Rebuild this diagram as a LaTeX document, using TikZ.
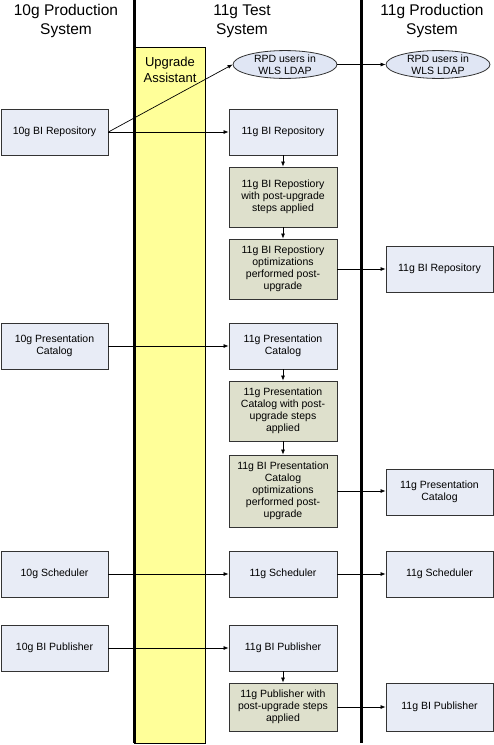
\documentclass[tikz,border=0pt]{standalone}
\usepackage{fontspec}
\setmainfont{Liberation Sans}
\usetikzlibrary{arrows.meta,shapes.geometric}
\definecolor{boxblue}{HTML}{E8ECF6}
\definecolor{ellblue}{HTML}{E0E6F4}
\definecolor{boxgreen}{HTML}{DEE0CC}
\definecolor{uayellow}{HTML}{FFFF99}
\definecolor{edgegray}{HTML}{333333}
\tikzset{
  bluebox/.style={draw=edgegray, line width=0.8pt, fill=boxblue, rectangle, inner sep=0pt,
    align=center, font=\fontsize{10.5}{12}\selectfont, minimum width=107pt, minimum height=46pt},
  greenbox/.style={bluebox, fill=boxgreen},
  ellbox/.style={draw=edgegray, line width=0.8pt, fill=ellblue, ellipse, inner sep=0pt,
    align=center, font=\fontsize{10.5}{12}\selectfont, minimum width=104pt, minimum height=25pt},
  header/.style={align=center, font=\fontsize{15.5}{19}\selectfont},
  conn/.style={draw=black, line width=0.7pt, -{Latex[length=5pt,width=4pt]}},
  lane/.style={draw=black, line width=3pt}
}
\begin{document}
\begin{tikzpicture}[x=1pt,y=-1pt]
\useasboundingbox (0,0) rectangle (494,745);
% upgrade assistant column
\node[draw=black, line width=0.8pt, fill=uayellow, rectangle, inner sep=0pt, minimum width=71pt, minimum height=696pt] (ua) at (169.5,395) {};
\node[align=center, font=\fontsize{13}{15.5}\selectfont] (uatext) at (170,70) {Upgrade\\Assistant};
% lanes
\coordinate (l1t) at (134,0);
\coordinate (l1b) at (134,743);
\coordinate (l2t) at (361.5,0);
\coordinate (l2b) at (361.5,743);
\draw[lane] (l1t) -- (l1b);
\draw[lane] (l2t) -- (l2b);
% headers
\node[header] (h1) at (66,21) {10g Production\\System};
\node[header] (h2) at (242,21) {11g Test\\System};
\node[header] (h3) at (432,21) {11g Production\\System};
% ellipses
\node[ellbox] (tE) at (285,64.5) {RPD users in\\WLS LDAP};
\node[ellbox] (pE) at (438,64.5) {RPD users in\\WLS LDAP};
% left column
\node[bluebox] (rBI) at (54.5,132) {10g BI Repository};
\node[bluebox] (rPC) at (54.5,346) {10g Presentation\\Catalog};
\node[bluebox] (rS) at (54.5,574) {10g Scheduler};
\node[bluebox] (rP) at (54.5,648) {10g BI Publisher};
% test column
\node[bluebox, minimum width=108pt] (tBI) at (283,132) {11g BI Repository};
\node[greenbox, minimum width=108pt, minimum height=60pt] (g1) at (283,197) {11g BI Repostiory\\with post-upgrade\\steps applied};
\node[greenbox, minimum width=108pt, minimum height=60pt] (g2) at (283,269) {11g BI Repostiory\\optimizations\\performed post-\\upgrade};
\node[bluebox, minimum width=108pt] (tPC) at (283,346) {11g Presentation\\Catalog};
\node[greenbox, minimum width=108pt, minimum height=60pt] (g3) at (283,411) {11g Presentation\\Catalog with post-\\upgrade steps\\applied};
\node[greenbox, minimum width=108pt, minimum height=72pt] (g4) at (283,491) {11g BI Presentation\\Catalog\\optimizations\\performed post-\\upgrade};
\node[bluebox, minimum width=108pt] (tS) at (283,574) {11g Scheduler};
\node[bluebox, minimum width=108pt] (tP) at (283,648) {11g BI Publisher};
\node[greenbox, minimum width=108pt, minimum height=48pt] (g5) at (283,707) {11g Publisher with\\post-upgrade steps\\applied};
% production column
\node[bluebox] (pBI) at (439.5,269) {11g BI Repository};
\node[bluebox] (pPC) at (439.5,492) {11g Presentation\\Catalog};
\node[bluebox] (pS) at (439.5,574) {11g Scheduler};
\node[bluebox, minimum height=48pt] (pP) at (439.5,707) {11g BI Publisher};
% connectors
\draw[conn] (rBI.east) -- (tE.west);
\draw[conn] (rBI.east) -- (tBI.west);
\draw[conn] (tE.east) -- (pE.west);
\draw[conn] (tBI.south) -- (g1.north);
\draw[conn] (g1.south) -- (g2.north);
\draw[conn] (g2.east) -- (pBI.west);
\draw[conn] (rPC.east) -- (tPC.west);
\draw[conn] (tPC.south) -- (g3.north);
\draw[conn] (g3.south) -- (g4.north);
\draw[conn] (g4.east) -- (g4.east -| pPC.west);
\draw[conn] (rS.east) -- (tS.west);
\draw[conn] (tS.east) -- (pS.west);
\draw[conn] (rP.east) -- (tP.west);
\draw[conn] (tP.south) -- (g5.north);
\draw[conn] (g5.east) -- (pP.west);
\end{tikzpicture}
\end{document}
